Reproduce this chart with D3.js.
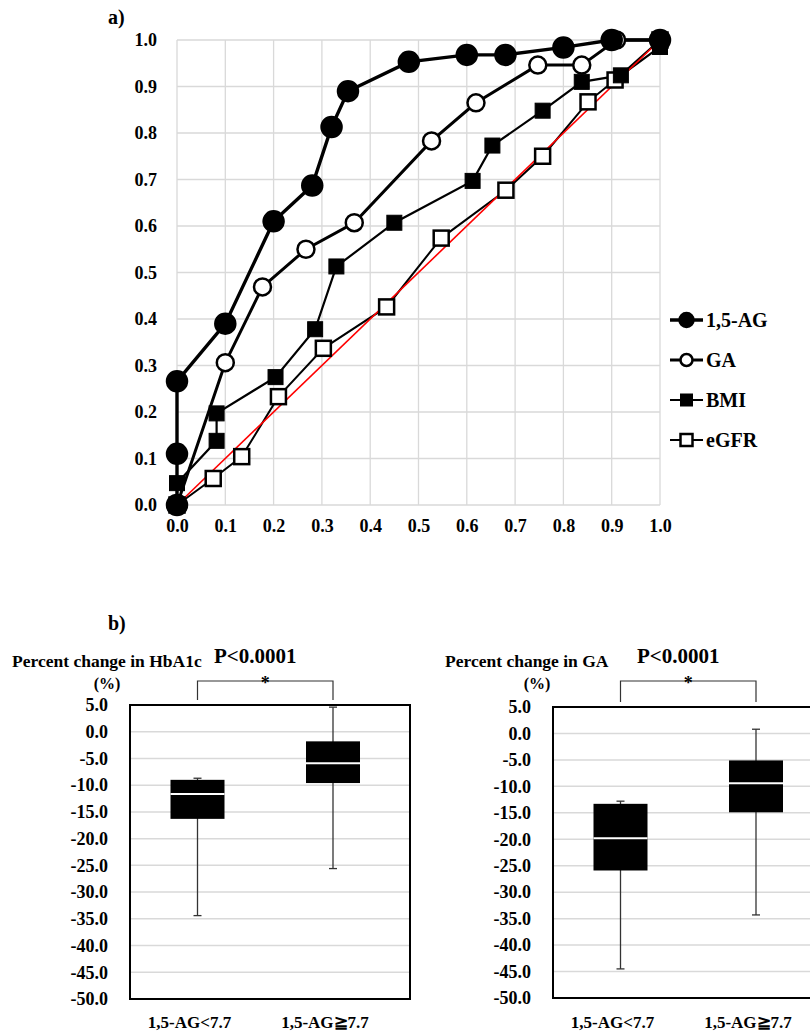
<!DOCTYPE html>
<html>
<head>
<meta charset="utf-8">
<script src="https://cdn.jsdelivr.net/npm/d3@7"></script>
<style>
  body { margin: 0; background: #fff; }
  text { font-family: "Liberation Serif", "Times New Roman", serif; font-weight: bold; fill: #000; }
</style>
</head>
<body>
<div id="chart"></div>
<script>
// ROC curves (false positive rate, true positive rate)
var ag15FPR = [0, 0, 0, 0.10, 0.20, 0.28, 0.32, 0.354, 0.48, 0.60, 0.68, 0.80, 0.90, 1.0];
var ag15TPR = [0, 0.11, 0.266, 0.39, 0.61, 0.687, 0.813, 0.89, 0.953, 0.968, 0.968, 0.984, 1.0, 1.0];
var gaFPR = [0, 0.10, 0.177, 0.267, 0.367, 0.527, 0.619, 0.747, 0.838, 0.91, 1.0];
var gaTPR = [0, 0.306, 0.469, 0.55, 0.607, 0.783, 0.865, 0.946, 0.946, 1.0, 1.0];
var bmiFPR = [0, 0, 0.082, 0.082, 0.204, 0.286, 0.33, 0.45, 0.612, 0.653, 0.757, 0.838, 0.919, 1.0];
var bmiTPR = [0, 0.047, 0.138, 0.197, 0.275, 0.378, 0.513, 0.607, 0.697, 0.773, 0.848, 0.91, 0.924, 0.985];
var egfrFPR = [0, 0.075, 0.134, 0.21, 0.303, 0.434, 0.547, 0.681, 0.757, 0.851, 0.907, 1.0];
var egfrTPR = [0, 0.057, 0.104, 0.233, 0.337, 0.426, 0.574, 0.677, 0.75, 0.867, 0.914, 1.0];
var rocTicks = [0, 0.1, 0.2, 0.3, 0.4, 0.5, 0.6, 0.7, 0.8, 0.9, 1.0];
var seriesNames = ["1,5-AG", "GA", "BMI", "eGFR"];

// box plots
var groups = ["1,5-AG<7.7", "1,5-AG\u22677.7"];
var hbMin = [-34.4, -25.6], hbQ1 = [-16.3, -9.6], hbMed = [-11.65, -5.9], hbQ3 = [-9.0, -1.8], hbMax = [-8.7, 4.6];
var gaMin = [-44.5, -34.3], gaQ1 = [-25.9, -14.9], gaMed = [-19.8, -9.4], gaQ3 = [-13.3, -5.1], gaMax = [-12.8, 0.8];
var boxTicks = [5, 0, -5, -10, -15, -20, -25, -30, -35, -40, -45, -50];

var svg = d3.select("#chart").append("svg")
  .attr("width", 810)
  .attr("height", 1034);

// ---------- a) ROC ----------
var x = d3.scaleLinear().domain([0, 1]).range([177, 660]);
var y = d3.scaleLinear().domain([0, 1]).range([505, 40]);

svg.append("text").attr("x", 108).attr("y", 24).style("font-size", "20px").text("a)");

var grid = svg.append("g");
grid.selectAll(".vg").data(rocTicks).enter().append("line")
  .attr("x1", function (d) { return x(d); }).attr("x2", function (d) { return x(d); })
  .attr("y1", y(0)).attr("y2", y(1))
  .style("stroke", "#d9d9d9").style("stroke-width", 1.3);
grid.selectAll(".hg").data(rocTicks).enter().append("line")
  .attr("y1", function (d) { return y(d); }).attr("y2", function (d) { return y(d); })
  .attr("x1", x(0)).attr("x2", x(1))
  .style("stroke", "#d9d9d9").style("stroke-width", 1.3);

var fmt = function (d) { return d.toFixed(1); };
var yAxis = svg.append("g").attr("transform", "translate(" + x(0) + ",0)")
  .call(d3.axisLeft(y).tickValues(rocTicks).tickSize(0).tickPadding(20).tickFormat(fmt));
var xAxis = svg.append("g").attr("transform", "translate(0," + y(0) + ")")
  .call(d3.axisBottom(x).tickValues(rocTicks).tickSize(0).tickPadding(14).tickFormat(fmt));
[yAxis, xAxis].forEach(function (a) {
  a.select(".domain").remove();
  a.selectAll("text").style("font-size", "18px").style("font-family", null);
});

function pairs(fx, fy) {
  return fx.map(function (d, i) { return [d, fy[i]]; });
}
var series = [
  { name: seriesNames[0], pts: pairs(ag15FPR, ag15TPR), lw: 3.4, shape: "circle", fill: "#000" },
  { name: seriesNames[1], pts: pairs(gaFPR, gaTPR), lw: 3, shape: "circle", fill: "#fff" },
  { name: seriesNames[2], pts: pairs(bmiFPR, bmiTPR), lw: 2.2, shape: "square", fill: "#000" },
  { name: seriesNames[3], pts: pairs(egfrFPR, egfrTPR), lw: 2, shape: "square", fill: "#fff" }
];

var line = d3.line()
  .x(function (d) { return x(d[0]); })
  .y(function (d) { return y(d[1]); });

function marker(g, s, cx, cy, big) {
  if (s.shape === "circle") {
    g.append("circle").attr("cx", cx).attr("cy", cy)
      .attr("r", s.fill === "#000" ? (big ? 10 : 7) : (big ? 8.5 : 6))
      .style("fill", s.fill).style("stroke", "#000").style("stroke-width", 2.5);
  } else {
    var h = big ? 7.5 : 6;
    g.append("rect").attr("x", cx - h).attr("y", cy - h).attr("width", 2 * h).attr("height", 2 * h)
      .style("fill", s.fill).style("stroke", "#000").style("stroke-width", s.fill === "#000" ? 1 : 2.5);
  }
}

series.slice().reverse().forEach(function (s) {
  svg.append("path").datum(s.pts).attr("d", line)
    .style("fill", "none").style("stroke", "#000").style("stroke-width", s.lw);
});

svg.append("line")
  .attr("x1", x(0)).attr("y1", y(0)).attr("x2", x(1)).attr("y2", y(1))
  .style("stroke", "#ff0000").style("stroke-width", 1.6);

series.slice().reverse().forEach(function (s) {
  var g = svg.append("g");
  s.pts.forEach(function (p) { marker(g, s, x(p[0]), y(p[1]), true); });
});

// legend
var legendY = [320, 360, 400, 440];
series.forEach(function (s, i) {
  var g = svg.append("g");
  g.append("line").attr("x1", 670).attr("x2", 703).attr("y1", legendY[i]).attr("y2", legendY[i])
    .style("stroke", "#000").style("stroke-width", s.lw);
  marker(g, s, 686.5, legendY[i], false);
  g.append("text").attr("x", 706).attr("y", legendY[i]).attr("dy", "0.35em")
    .style("font-size", "20px").text(s.name);
});

// ---------- b) box plots ----------
svg.append("text").attr("x", 108).attr("y", 630).style("font-size", "20px").text("b)");

function boxPlot(opt) {
  var yb = d3.scaleLinear().domain([-50, 5]).range([opt.bottom, opt.top]);
  var xb = d3.scalePoint().domain(groups).range([opt.left + 67.5, opt.left + 203]);
  var right = opt.left + 280;

  svg.append("g").selectAll("line").data(boxTicks.slice(1, -1)).enter().append("line")
    .attr("x1", opt.left).attr("x2", right)
    .attr("y1", function (d) { return yb(d); }).attr("y2", function (d) { return yb(d); })
    .style("stroke", "#d9d9d9").style("stroke-width", 1.5);

  var ax = svg.append("g").attr("transform", "translate(" + opt.left + ",0)")
    .call(d3.axisLeft(yb).tickValues(boxTicks).tickSize(0).tickPadding(22).tickFormat(fmt));
  ax.select(".domain").remove();
  ax.selectAll("text").style("font-size", "18px").style("font-family", null);

  groups.forEach(function (gname, i) {
    var cx = xb(gname);
    var g = svg.append("g");
    g.append("line").attr("x1", cx).attr("x2", cx)
      .attr("y1", yb(opt.max[i])).attr("y2", yb(opt.min[i]))
      .style("stroke", "#333").style("stroke-width", 1.3);
    [opt.max[i], opt.min[i]].forEach(function (v) {
      g.append("line").attr("x1", cx - 4).attr("x2", cx + 4)
        .attr("y1", yb(v)).attr("y2", yb(v))
        .style("stroke", "#333").style("stroke-width", 1.3);
    });
    g.append("rect").attr("x", cx - 27).attr("width", 54)
      .attr("y", yb(opt.q3[i])).attr("height", yb(opt.q1[i]) - yb(opt.q3[i]))
      .style("fill", "#000");
    g.append("line").attr("x1", cx - 27).attr("x2", cx + 27)
      .attr("y1", yb(opt.med[i])).attr("y2", yb(opt.med[i]))
      .style("stroke", "#fff").style("stroke-width", 2);
    g.append("text").attr("x", cx - 8).attr("y", 1028).attr("text-anchor", "middle")
      .style("font-size", "17px").text(gname);
  });

  svg.append("rect").attr("x", opt.left).attr("y", opt.top)
    .attr("width", right - opt.left).attr("height", opt.bottom - opt.top)
    .style("fill", "none").style("stroke", "#000").style("stroke-width", 2);

  // significance bracket
  var x1 = xb(groups[0]), x2 = xb(groups[1]);
  svg.append("path")
    .attr("d", "M" + x1 + "," + (opt.top - 5) + "V" + 681 + "H" + x2 + "V" + (opt.top - 5))
    .style("fill", "none").style("stroke", "#333").style("stroke-width", 1.2);
  svg.append("text").attr("x", (x1 + x2) / 2).attr("y", 689).attr("text-anchor", "middle")
    .style("font-size", "18px").text("*");
  svg.append("text").attr("x", (x1 + x2) / 2 - 10).attr("y", 663).attr("text-anchor", "middle")
    .style("font-size", "21px").text("P<0.0001");

  svg.append("text").attr("x", opt.titleX).attr("y", 667).style("font-size", "17.5px").text(opt.title);
  svg.append("text").attr("x", opt.pctX).attr("y", 689).attr("text-anchor", "middle")
    .style("font-size", "16px").text("(%)");
}

boxPlot({ left: 130, top: 705, bottom: 999, title: "Percent change in HbA1c", titleX: 12, pctX: 107,
  min: hbMin, q1: hbQ1, med: hbMed, q3: hbQ3, max: hbMax });
boxPlot({ left: 553, top: 707, bottom: 998, title: "Percent change in GA", titleX: 445, pctX: 537,
  min: gaMin, q1: gaQ1, med: gaMed, q3: gaQ3, max: gaMax });
</script>
</body>
</html>
